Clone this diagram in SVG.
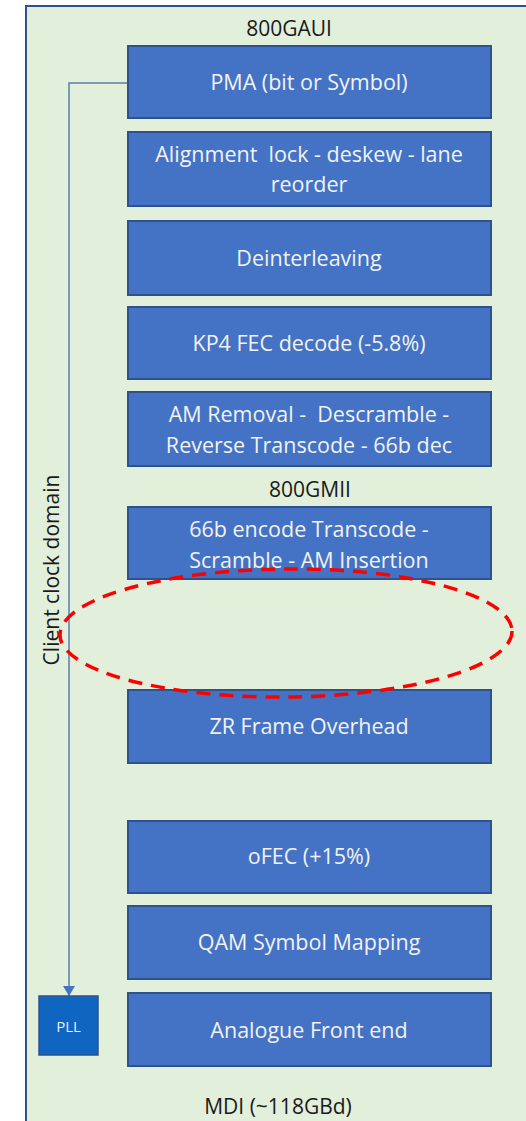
<svg xmlns="http://www.w3.org/2000/svg" width="526" height="1121" viewBox="0 0 526 1121">
<defs>
<style>
.box{fill:#4472C4;stroke:#2F528F;stroke-width:2}
.bt{fill:#F2F2F2;font-family:"Open Sans","Noto Sans",sans-serif;font-size:21.5px;text-anchor:middle;white-space:pre}
.lbl{fill:#1a1a1a;font-family:"Open Sans","Noto Sans",sans-serif;font-size:21px;text-anchor:middle}
</style>
<marker id="arr" markerWidth="12" markerHeight="12" refX="10" refY="6" orient="auto" markerUnits="userSpaceOnUse" viewBox="0 0 12 12">
<path d="M0,0 L10,6 L0,12 Z" fill="#4472C4"/>
</marker>
</defs>
<rect x="0" y="0" width="526" height="1121" fill="#ffffff"/>
<g id="frame">
<rect x="26" y="6" width="510" height="1130" fill="#E2EFDA" stroke="#2F528F" stroke-width="2"/>
</g>
<text class="lbl" x="289" y="36">800GAUI</text>
<text class="lbl" x="310" y="497">800GMII</text>
<text class="lbl" x="278" y="1114">MDI (~118GBd)</text>
<text class="lbl" transform="translate(59,570) rotate(-90)">Client clock domain</text>
<g id="connectors">
<path d="M128,83 H69 V996" fill="none" stroke="#5B7DB1" stroke-width="1.5" marker-end="url(#arr)"/>
</g>
<g id="pma"><rect class="box" x="128" y="46" width="363" height="72"/><text class="bt" x="309" y="90">PMA (bit or Symbol)</text></g>
<g id="align"><rect class="box" x="128" y="132" width="363" height="74"/><text class="bt" x="309" y="162">Alignment  lock - deskew - lane</text><text class="bt" x="309" y="192">reorder</text></g>
<g id="deint"><rect class="box" x="128" y="221" width="363" height="74"/><text class="bt" x="309" y="266">Deinterleaving</text></g>
<g id="kp4"><rect class="box" x="128" y="307" width="363" height="72"/><text class="bt" x="309" y="351">KP4 FEC decode (-5.8%)</text></g>
<g id="amrem"><rect class="box" x="128" y="392" width="363" height="74"/><text class="bt" x="309" y="422">AM Removal -  Descramble -</text><text class="bt" x="309" y="453">Reverse Transcode - 66b dec</text></g>
<g id="enc66"><rect class="box" x="128" y="507" width="363" height="72"/><text class="bt" x="309" y="537">66b encode Transcode -</text><text class="bt" x="309" y="568">Scramble - AM Insertion</text></g>
<g id="zrfo"><rect class="box" x="128" y="690" width="363" height="73"/><text class="bt" x="309" y="734">ZR Frame Overhead</text></g>
<g id="ofec"><rect class="box" x="128" y="821" width="363" height="72"/><text class="bt" x="309" y="864">oFEC (+15%)</text></g>
<g id="qam"><rect class="box" x="128" y="906" width="363" height="73"/><text class="bt" x="309" y="950">QAM Symbol Mapping</text></g>
<g id="afe"><rect class="box" x="128" y="993" width="363" height="73"/><text class="bt" x="309" y="1038">Analogue Front end</text></g>
<g id="pll"><rect x="39" y="996" width="59" height="59" fill="#0F65C0" stroke="#2F528F" stroke-width="1.5"/><text x="68.5" y="1032" fill="#E8EEF8" font-family="'Open Sans','Noto Sans',sans-serif" font-size="15" text-anchor="middle">PLL</text></g>
<g id="ellipse"><ellipse cx="286" cy="633" rx="226" ry="64" fill="none" stroke="#FF0000" stroke-width="3.5" stroke-dasharray="14,9" transform="rotate(-0.5 286 633)"/></g>
</svg>
